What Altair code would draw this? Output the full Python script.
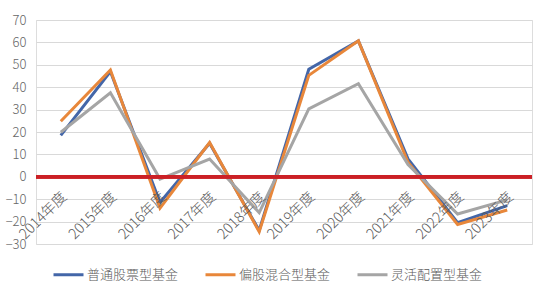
import altair as alt
import pandas as pd

years = ["2014年度", "2015年度", "2016年度", "2017年度", "2018年度",
         "2019年度", "2020年度", "2021年度", "2022年度", "2023年度"]
series_names = ["普通股票型基金", "偏股混合型基金", "灵活配置型基金"]
stock_fund = [18.5, 47.0, -11.5, 15.0, -24.0, 48.0, 60.7, 8.0, -20.5, -12.9]
mixed_fund = [24.8, 47.7, -14.0, 15.3, -24.5, 45.3, 60.7, 6.5, -21.3, -14.8]
flex_fund = [19.9, 37.5, -1.0, 7.9, -16.0, 30.3, 41.6, 5.5, -16.6, -10.3]
y_ticks = [-30, -20, -10, 0, 10, 20, 30, 40, 50, 60, 70]
colors = ["#4366A8", "#E8873A", "#A5A5A5"]

rows = []
for name, vals in zip(series_names, [stock_fund, mixed_fund, flex_fund]):
    for yr, v in zip(years, vals):
        rows.append({"year": yr, "series": name, "value": v})
df = pd.DataFrame(rows)
ydf = pd.DataFrame({"year": years})

FONT = "Noto Sans CJK SC"

x_enc = alt.X("year:N", sort=years,
              scale=alt.Scale(type="point", padding=0.5, domain=years), axis=None)

lines = alt.Chart(df).mark_line(strokeWidth=3).encode(
    x=x_enc,
    y=alt.Y("value:Q", scale=alt.Scale(domain=[-30, 70], nice=False),
            axis=alt.Axis(values=y_ticks, tickCount=20, title=None, domain=False,
                          ticks=False, labelOverlap=False, labelPadding=10,
                          labelFontSize=13, labelColor="#666666", labelFont=FONT,
                          labelFontWeight=300, gridColor="#D9D9D9", gridWidth=1)),
    color=alt.Color("series:N", sort=series_names,
                    scale=alt.Scale(domain=series_names, range=colors),
                    legend=alt.Legend(title=None, orient="none", direction="horizontal",
                                      legendX=16, legendY=238, columns=3,
                                      symbolType="stroke", symbolSize=900,
                                      symbolStrokeWidth=3, labelFontSize=13,
                                      labelFont=FONT, labelColor="#595959",
                                      labelFontWeight=300,
                                      labelOffset=2, columnPadding=20, padding=0)),
    order=alt.Order("series:N"),
)

zero = alt.Chart(ydf).mark_rule(color="#CB2026", strokeWidth=3).encode(
    y=alt.datum(0)
)

labels = alt.Chart(ydf).mark_text(
    angle=315, align="right", baseline="middle", fontSize=14.5, font=FONT,
    fontWeight=300, color="#595959", xOffset=4, yOffset=18
).encode(
    x=x_enc,
    y=alt.datum(0),
    text="year:N",
)

chart = alt.layer(lines, zero, labels).properties(
    width=496, height=224,
    autosize=alt.AutoSizeParams(type="none"),
    padding={"left": 36, "top": 20, "right": 14, "bottom": 43},
).configure_view(stroke=None).configure(background="white")

chart.save("out.html", embed_options={"renderer": "svg", "actions": False})
